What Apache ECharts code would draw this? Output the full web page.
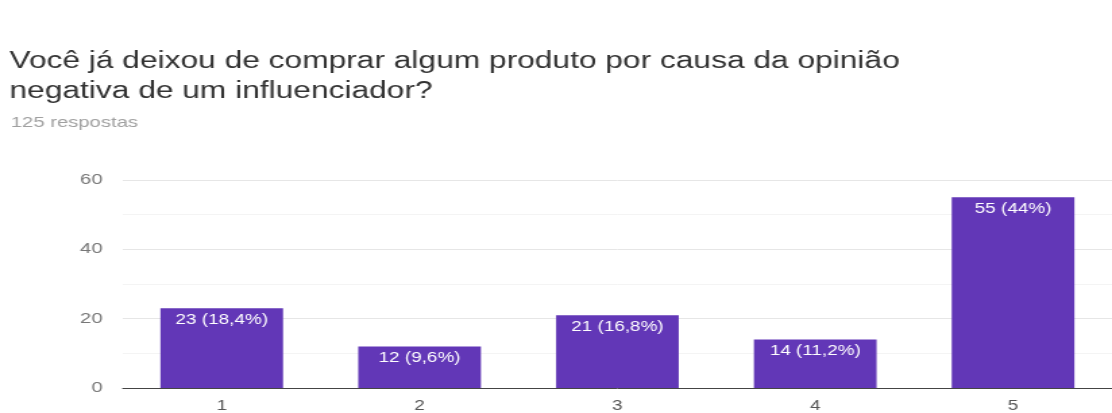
<!DOCTYPE html>
<html>
<head>
<meta charset="utf-8">
<script src="https://cdn.jsdelivr.net/npm/echarts@6/dist/echarts.min.js"></script>
<style>
  html, body { margin: 0; padding: 0; background: #ffffff; overflow: hidden; }
  #wrap { width: 1112px; height: 413px; overflow: hidden; }
  /* the form screenshot is laid out wide: draw at a narrower width and stretch horizontally */
  #chart { width: 824px; height: 413px; transform: scaleX(1.3495); transform-origin: 0 0; }
</style>
</head>
<body>
<div id="wrap"><div id="chart"></div></div>
<script>
const questionText = 'Você já deixou de comprar algum produto por causa da opinião\nnegativa de um influenciador?';
const totalResponses = 125;
const categories = ['1', '2', '3', '4', '5'];
const counts = [23, 12, 21, 14, 55];
const yTicks = [0, 20, 40, 60];

function pctLabel(v) {
  const p = Math.round(v / totalResponses * 1000) / 10;
  return v + ' (' + String(p).replace('.', ',') + '%)';
}

const chart = echarts.init(document.getElementById('chart'), null, { renderer: 'canvas' });
chart.setOption({
  animation: false,
  backgroundColor: '#ffffff',
  textStyle: { fontFamily: '"Liberation Sans", Arial, sans-serif' },
  title: [
    {
      text: questionText,
      left: 7,
      top: 47,
      padding: 0,
      textStyle: { fontSize: 23.5, fontWeight: 'normal', color: '#333333', lineHeight: 30, fontFamily: '"Liberation Sans", Arial, sans-serif' }
    },
    {
      text: totalResponses + ' respostas',
      left: 8,
      top: 115,
      padding: 0,
      textStyle: { fontSize: 15, fontWeight: 'normal', color: '#a0a0a0', lineHeight: 16, fontFamily: '"Liberation Sans", Arial, sans-serif' }
    }
  ],
  grid: { left: 91, right: 0, top: 180, bottom: 22, containLabel: false },
  xAxis: {
    type: 'category',
    data: categories,
    axisLine: { show: true, lineStyle: { color: '#444444', width: 1 } },
    axisTick: { show: false },
    axisLabel: { color: '#555555', fontSize: 14, margin: 11 }
  },
  yAxis: {
    type: 'value',
    min: yTicks[0],
    max: yTicks[yTicks.length - 1],
    interval: yTicks[1] - yTicks[0],
    axisLine: { show: false },
    axisTick: { show: false },
    axisLabel: { color: '#777777', fontSize: 15, margin: 15 },
    splitLine: { show: true, lineStyle: { color: '#e6e6e6', width: 1 } },
    minorTick: { show: false, splitNumber: 2 },
    minorSplitLine: { show: true, lineStyle: { color: '#f4f4f4', width: 1 } }
  },
  series: [{
    type: 'bar',
    data: counts,
    barCategoryGap: '38%',
    itemStyle: { color: '#6237b7' },
    label: {
      show: true,
      position: 'insideTop',
      distance: 5,
      color: '#ffffff',
      fontSize: 14,
      formatter: p => pctLabel(p.value)
    }
  }]
});
</script>
</body>
</html>
